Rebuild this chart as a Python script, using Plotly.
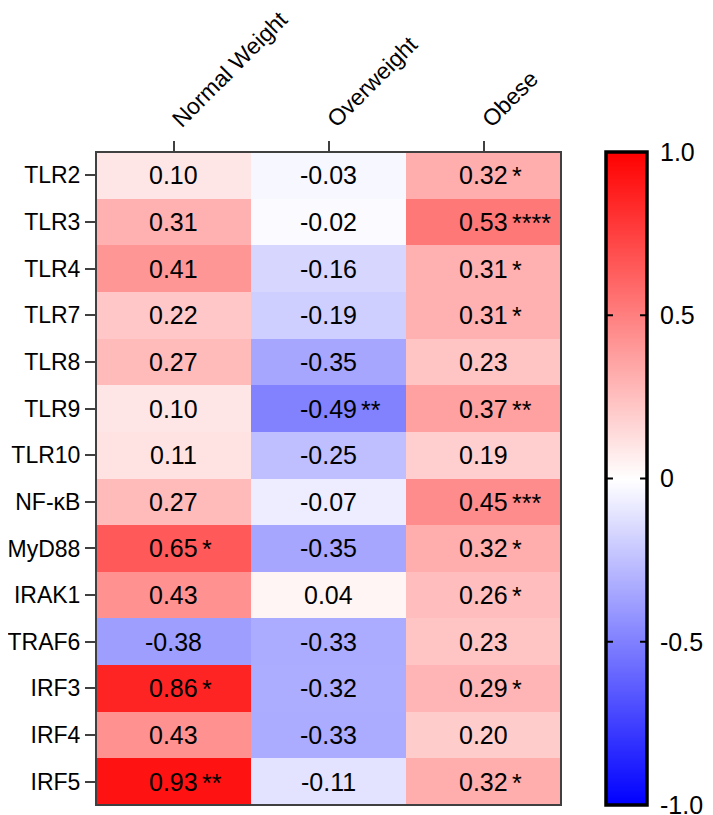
import plotly.graph_objects as go

rows = ["TLR2", "TLR3", "TLR4", "TLR7", "TLR8", "TLR9", "TLR10", "NF-κB",
        "MyD88", "IRAK1", "TRAF6", "IRF3", "IRF4", "IRF5"]
cols = ["Normal Weight", "Overweight", "Obese"]

normal = [0.10, 0.31, 0.41, 0.22, 0.27, 0.10, 0.11, 0.27, 0.65, 0.43, -0.38, 0.86, 0.43, 0.93]
over = [-0.03, -0.02, -0.16, -0.19, -0.35, -0.49, -0.25, -0.07, -0.35, 0.04, -0.33, -0.32, -0.33, -0.11]
obese = [0.32, 0.53, 0.31, 0.31, 0.23, 0.37, 0.19, 0.45, 0.32, 0.26, 0.23, 0.29, 0.20, 0.32]

normal_sig = ["", "", "", "", "", "", "", "", "*", "", "", "*", "", "**"]
over_sig = ["", "", "", "", "", "**", "", "", "", "", "", "", "", ""]
obese_sig = ["*", "****", "*", "*", "", "**", "", "***", "*", "*", "", "*", "", "*"]

# colour-bar scale stops and tick labels
scale_stops = [-1.0, 0.0, 1.0]
cbar_vals = [1.0, 0.5, 0.0, -0.5, -1.0]
cbar_text = ["1.0", "0.5", "0", "-0.5", "-1.0"]

FONT = "Liberation Sans, Arial, sans-serif"
COLORSCALE = [[0, "rgb(0,0,255)"], [0.5, "rgb(255,255,255)"], [1, "rgb(255,0,0)"]]
series = [normal, over, obese]
sigs = [normal_sig, over_sig, obese_sig]

z = [[series[c][r] for c in range(3)] for r in range(len(rows))]

# layout geometry (figure px; page body adds 8px offset)
W, H = 713, 807
ML, MT = 88, 144
PAPER_W, PH = 617, 653
MR = W - ML - PAPER_W
MB = H - MT - PH
HEAT_W = 465
BAR_L, BAR_R = 598, 639  # figure px, inner edges of the colour bar

fig = go.Figure()
fig.add_trace(go.Heatmap(
    z=z, x=cols, y=rows, zmin=-1, zmax=1, colorscale=COLORSCALE,
    showscale=False, hoverinfo="skip", xaxis="x", yaxis="y",
))
fig.add_trace(go.Heatmap(
    z=[[v] for v in scale_stops], y=scale_stops, x=[0],
    zmin=-1, zmax=1, colorscale=COLORSCALE, zsmooth="best",
    showscale=False, hoverinfo="skip", xaxis="x2", yaxis="y2",
))

def text_width(s, size):
    w = 0
    for ch in s:
        if ch.isdigit():
            w += 0.556
        elif ch == ".":
            w += 0.278
        elif ch == "-":
            w += 0.333
        else:
            w += 0.5
    return w * size

CELL = 25
ann = []
for c in range(3):
    for r in range(len(rows)):
        v = series[c][r]
        s = f"{v:.2f}"
        ann.append(dict(x=cols[c], y=rows[r], xref="x", yref="y", text=s,
                        showarrow=False, xanchor="center", yanchor="middle",
                        font=dict(family=FONT, size=CELL, color="black")))
        if sigs[c][r]:
            ann.append(dict(x=cols[c], y=rows[r], xref="x", yref="y", text=sigs[c][r],
                            showarrow=False, xanchor="left", yanchor="middle",
                            xshift=text_width(s, CELL) / 2 + 2, yshift=-1,
                            font=dict(family=FONT, size=CELL, color="black")))

shapes = [
    dict(type="rect", xref="x domain", yref="y domain", x0=0, x1=1, y0=0, y1=1,
         line=dict(color="#404040", width=2)),
    dict(type="rect", xref="x2 domain", yref="y2 domain", x0=0, x1=1, y0=0, y1=1,
         line=dict(color="black", width=3.5)),
]
for v in cbar_vals[1:-1]:
    for x0, x1 in [(0, 0.17), (0.83, 1)]:
        shapes.append(dict(type="line", xref="x2 domain", yref="y2",
                           x0=x0, x1=x1, y0=v, y1=v,
                           line=dict(color="black", width=2)))

fig.update_layout(
    width=W, height=H,
    margin=dict(l=ML, r=MR, t=MT, b=MB, autoexpand=False),
    paper_bgcolor="white", plot_bgcolor="white",
    annotations=ann,
    shapes=shapes,
    xaxis=dict(domain=[0, HEAT_W / PAPER_W], anchor="y",
               side="top", tickangle=-45, ticks="outside", ticklen=10, tickwidth=1.5,
               tickcolor="#404040", showgrid=False, zeroline=False, showline=False,
               tickfont=dict(family=FONT, size=23, color="black")),
    yaxis=dict(domain=[0, 1], anchor="x", autorange="reversed",
               ticks="outside", ticklen=10, tickwidth=1.5,
               tickcolor="#404040", showgrid=False, zeroline=False, showline=False,
               tickfont=dict(family=FONT, size=23, color="black")),
    xaxis2=dict(domain=[(BAR_L - ML) / PAPER_W, (BAR_R - ML) / PAPER_W], anchor="y2",
                visible=False, range=[-0.5, 0.5]),
    yaxis2=dict(domain=[0, 1], anchor="x2", side="right", range=[-1, 1],
                tickmode="array", tickvals=cbar_vals, ticktext=cbar_text,
                ticks="outside", ticklen=7, tickcolor="rgba(0,0,0,0)",
                ticklabeloverflow="allow",
                showgrid=False, zeroline=False, showline=False,
                tickfont=dict(family=FONT, size=25, color="black")),
)

fig.write_html("out.html")
